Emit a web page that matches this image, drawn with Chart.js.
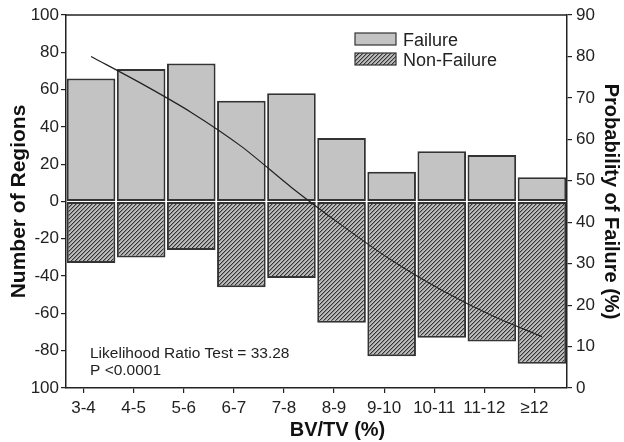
<!DOCTYPE html>
<html>
<head>
<meta charset="utf-8">
<script src="https://cdn.jsdelivr.net/npm/chart.js@4/dist/chart.umd.min.js"></script>
<style>
html,body{margin:0;padding:0;background:#fff;}
#wrap{width:624px;height:442px;}
</style>
</head>
<body>
<div id="wrap"><canvas id="c" width="624" height="442"></canvas></div>
<script>
const categories = ['3-4','4-5','5-6','6-7','7-8','8-9','9-10','10-11','11-12','\u226512'];
const failure = [66, 71, 74, 54, 58, 34, 16, 27, 25, 13];
const nonFailure = [-33, -30, -26, -46, -41, -65, -83, -73, -75, -87];
const probability = [80, 73.5, 66.5, 58.3, 48.4, 39.3, 30.8, 23.6, 17.5, 12.4];
const leftTickValues = [-100, -80, -60, -40, -20, 0, 20, 40, 60, 80, 100];
const leftTickLabels = ['100', '-80', '-60', '-40', '-20', '0', '20', '40', '60', '80', '100'];
const rightTickValues = [0, 10, 20, 30, 40, 50, 60, 70, 80, 90];
const seriesNames = ['Failure', 'Non-Failure'];
const annotationLines = ['Likelihood Ratio Test = 33.28', 'P <0.0001'];

const FONT = '"Liberation Sans", Arial, Helvetica, sans-serif';
Chart.defaults.font.family = FONT;
Chart.defaults.color = '#222';

function makeHatch() {
  const t = document.createElement('canvas');
  t.width = 4; t.height = 4;
  const g = t.getContext('2d');
  g.fillStyle = '#bcbcbc';
  g.fillRect(0, 0, 4, 4);
  g.fillStyle = '#333';
  for (let i = 0; i < 4; i++) g.fillRect(i, 3 - i, 1, 1);
  g.fillStyle = '#8c8c8c';
  for (let i = 0; i < 4; i++) g.fillRect((i + 1) % 4, 3 - i, 1, 1);
  return g.createPattern(t, 'repeat');
}
const ctx = document.getElementById('c').getContext('2d');
const hatch = makeHatch();
const failColor = '#c3c3c3';
const edge = '#333';

const overlay = {
  id: 'overlay',
  afterDatasetsDraw(chart) {
    const a = chart.chartArea, c = chart.ctx;
    c.save();
    c.strokeStyle = '#222';
    c.lineWidth = 1.5;
    c.beginPath();
    c.moveTo(a.left, a.top);
    c.lineTo(a.right, a.top);
    c.stroke();
    c.restore();
  },
  afterDraw(chart) {
    const a = chart.chartArea, c = chart.ctx;
    c.save();
    const fills = [failColor, hatch];
    const sx = a.right - 212, sw = 41, sh = 12;
    const ys = [a.top + 18, a.top + 38];
    c.font = '18px ' + FONT;
    c.textBaseline = 'alphabetic';
    c.textAlign = 'left';
    for (let i = 0; i < 2; i++) {
      c.fillStyle = fills[i];
      c.fillRect(sx, ys[i], sw, sh);
      c.strokeStyle = edge;
      c.lineWidth = 1.2;
      c.strokeRect(sx, ys[i], sw, sh);
      c.fillStyle = '#222';
      c.fillText(seriesNames[i], sx + 48, ys[i] + 13);
    }
    c.font = '15.5px ' + FONT;
    c.fillText(annotationLines[0], a.left + 24, a.bottom - 30);
    c.fillText(annotationLines[1], a.left + 24, a.bottom - 13);
    c.font = 'bold 20px ' + FONT;
    c.textAlign = 'center';
    c.textBaseline = 'middle';
    c.fillStyle = '#111';
    c.fillText('BV/TV (%)', (a.left + a.right) / 2 + 21, a.bottom + 42);
    c.restore();
  }
};

new Chart(ctx, {
  data: {
    labels: categories,
    datasets: [
      {
        type: 'line',
        label: 'Probability',
        data: probability,
        xAxisID: 'x',
        yAxisID: 'yR',
        borderColor: '#222',
        borderWidth: 1.2,
        pointRadius: 0,
        tension: 0.3,
        fill: false,
        order: 0
      },
      {
        type: 'bar',
        label: seriesNames[0],
        data: failure,
        xAxisID: 'x',
        yAxisID: 'y',
        backgroundColor: failColor,
        borderColor: edge,
        borderWidth: 2,
        borderSkipped: false,
        categoryPercentage: 1,
        barPercentage: 0.97,
        order: 1
      },
      {
        type: 'bar',
        label: seriesNames[1],
        data: nonFailure,
        xAxisID: 'x',
        yAxisID: 'y',
        backgroundColor: hatch,
        borderColor: edge,
        borderWidth: 2,
        borderSkipped: false,
        categoryPercentage: 1,
        barPercentage: 0.97,
        order: 1
      }
    ]
  },
  options: {
    responsive: false,
    animation: false,
    devicePixelRatio: 1,
    layout: { padding: { top: 15, left: 0, right: 0, bottom: 0 } },
    plugins: { legend: { display: false }, tooltip: { enabled: false } },
    scales: {
      x: { type: 'category', display: false, stacked: true, offset: true },
      x2: {
        type: 'linear',
        position: 'bottom',
        min: -0.35,
        max: categories.length - 0.35,
        afterBuildTicks(s) { s.ticks = categories.map((c, i) => ({ value: i })); },
        afterFit(s) { s.height = 54; },
        ticks: {
          autoSkip: false,
          maxRotation: 0,
          padding: 5,
          font: { size: 17 },
          color: '#222',
          callback: (v) => categories[v]
        },
        grid: { drawOnChartArea: false, tickLength: 5, color: '#222', lineWidth: 1.2 },
        border: { color: '#222', width: 1.5 }
      },
      y: {
        position: 'left',
        stacked: true,
        min: -100,
        max: 100,
        afterBuildTicks(s) { s.ticks = leftTickValues.map(v => ({ value: v })); },
        afterFit(s) { s.width = 66; },
        ticks: {
          padding: 2,
          font: { size: 17 },
          color: '#222',
          callback: (v) => leftTickLabels[leftTickValues.indexOf(v)]
        },
        grid: { drawOnChartArea: false, tickLength: 5, color: '#222', lineWidth: 1.2 },
        border: { color: '#222', width: 1.5 },
        title: { display: true, text: 'Number of Regions', font: { size: 21, weight: 'bold' }, color: '#111', padding: { top: 7, bottom: 0 } }
      },
      yR: {
        position: 'right',
        min: 0,
        max: 90,
        afterBuildTicks(s) { s.ticks = rightTickValues.map(v => ({ value: v })); },
        afterFit(s) { s.width = 57; },
        ticks: { padding: 4, font: { size: 17 }, color: '#222' },
        grid: { drawOnChartArea: false, tickLength: 5, color: '#222', lineWidth: 1.2 },
        border: { color: '#222', width: 1.5 },
        title: { display: true, text: 'Probability of Failure (%)', font: { size: 20, weight: 'bold' }, color: '#111', padding: { top: 1, bottom: 0 } }
      }
    }
  },
  plugins: [overlay]
});
</script>
</body>
</html>
